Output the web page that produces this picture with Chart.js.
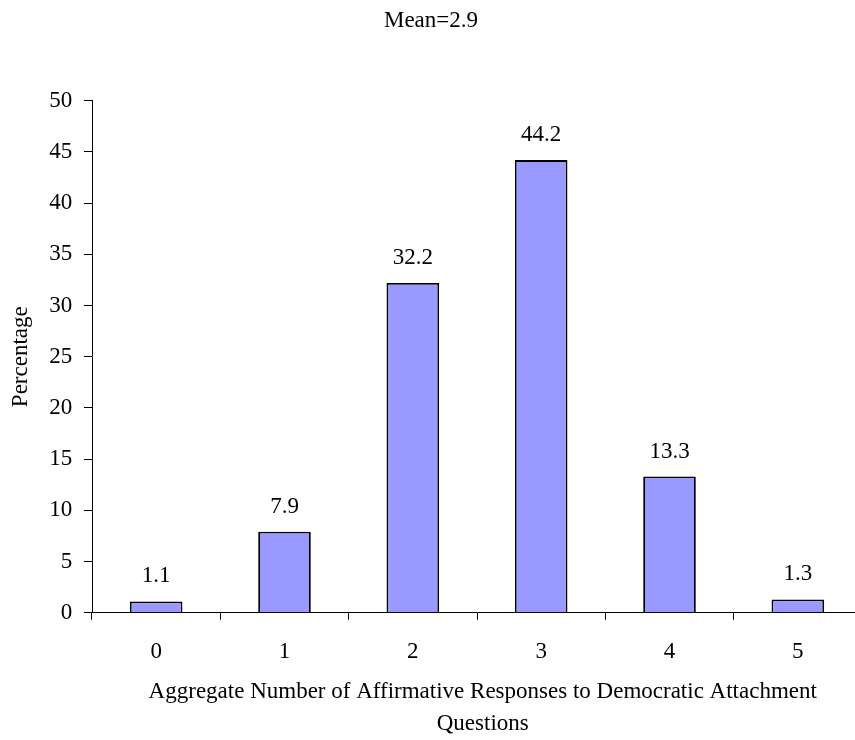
<!DOCTYPE html>
<html>
<head>
<meta charset="utf-8">
<script src="https://cdn.jsdelivr.net/npm/chart.js@4.4.1/dist/chart.umd.min.js"></script>
<style>
  html, body { margin: 0; padding: 0; background: #fff; overflow: hidden; }
  #wrap { width: 862px; height: 740px; }
</style>
</head>
<body>
<div id="wrap"><canvas id="c" width="862" height="740"></canvas></div>
<script>
// Distribution of affirmative responses (percent of respondents)
const categories = ['0', '1', '2', '3', '4', '5'];
const percentages = [1.1, 7.9, 32.2, 44.2, 13.3, 1.3];
const chartTitle = 'Mean=2.9';
const xTitle = ['  Aggregate Number of Affirmative Responses to Democratic Attachment', '  Questions'];
const yTitle = 'Percentage';

const FONT = '"Liberation Serif", "Times New Roman", serif';
const FS = 23;

// Writes each bar's value just above its top edge
const valueLabels = {
  id: 'valueLabels',
  afterDatasetsDraw(chart) {
    const ctx = chart.ctx;
    const meta = chart.getDatasetMeta(0);
    ctx.save();
    ctx.font = FS + 'px ' + FONT;
    ctx.fillStyle = '#000';
    ctx.textAlign = 'center';
    ctx.textBaseline = 'alphabetic';
    meta.data.forEach((bar, i) => {
      ctx.fillText(percentages[i].toFixed(1), bar.x, bar.y - 19);
    });
    ctx.restore();
  }
};

new Chart(document.getElementById('c'), {
  type: 'bar',
  data: {
    labels: categories,
    datasets: [{
      data: percentages,
      backgroundColor: '#9999FF',
      borderColor: '#000000',
      borderWidth: 1.8,
      categoryPercentage: 1,
      barPercentage: 0.41
    }]
  },
  options: {
    responsive: false,
    animation: false,
    devicePixelRatio: 1,
    layout: { padding: { left: 0, right: 0, top: 0, bottom: 0 } },
    plugins: {
      legend: { display: false },
      tooltip: { enabled: false },
      title: {
        display: true,
        text: chartTitle,
        color: '#000',
        font: { family: FONT, size: FS, weight: 'normal', lineHeight: 1.2 },
        padding: { top: 6.8, bottom: 66.3 }
      }
    },
    scales: {
      x: {
        grid: { offset: true, drawOnChartArea: false, drawTicks: true, tickLength: 7, color: '#000', lineWidth: 1 },
        border: { display: true, color: '#000', width: 1 },
        ticks: { color: '#000', font: { family: FONT, size: FS }, padding: 18, maxRotation: 0 },
        title: {
          display: true,
          text: xTitle,
          color: '#000',
          font: { family: FONT, size: FS, lineHeight: 1.39 },
          padding: { top: 0, bottom: 0 }
        },
        afterFit(scale) { scale.height = 127.3; }
      },
      y: {
        min: 0,
        max: 50,
        ticks: { stepSize: 5, color: '#000', font: { family: FONT, size: FS }, padding: 11.7 },
        grid: { drawOnChartArea: false, drawTicks: true, tickLength: 8, color: '#000', lineWidth: 1 },
        border: { display: true, color: '#000', width: 1 },
        title: {
          display: true,
          text: yTitle,
          color: '#000',
          font: { family: FONT, size: FS, lineHeight: 1.2 },
          padding: { top: 7, bottom: 0 }
        },
        afterFit(scale) { scale.width = 92; }
      }
    }
  },
  plugins: [valueLabels]
});
</script>
</body>
</html>
